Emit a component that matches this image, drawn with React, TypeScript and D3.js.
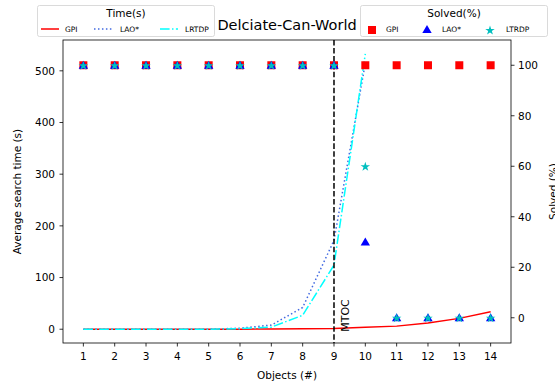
import React from "react";
import * as d3 from "d3";

const objects = [1, 2, 3, 4, 5, 6, 7, 8, 9, 10, 11, 12, 13, 14];
const gpiTime = [0, 0, 0, 0, 0, 0, 0.5, 1, 1.5, 4, 6, 12, 21, 34];
const laoObjects = [1, 2, 3, 4, 5, 6, 7, 8, 9, 10];
const laoTime = [0, 0, 0, 0, 0, 2, 8, 42, 172, 515];
const lrtdpTime = [0, 0, 0, 0, 0, 1, 4, 27, 124, 533];
const gpiSolved = [100, 100, 100, 100, 100, 100, 100, 100, 100, 100, 100, 100, 100, 100];
const laoSolved = [100, 100, 100, 100, 100, 100, 100, 100, 100, 30, 0, 0, 0, 0];
const lrtdpSolved = [100, 100, 100, 100, 100, 100, 100, 100, 100, 60, 0, 0, 0, 0];
const leftTicks = [0, 100, 200, 300, 400, 500];
const rightTicks = [0, 20, 40, 60, 80, 100];
const mtocAt = 9;

const W = 555, H = 385;
const L = 63, R = 511, T = 40, B = 343;
const FONT = "DejaVu Sans, sans-serif";

const x = d3.scaleLinear().domain([0.35, 14.65]).range([L, R]);
const yL = d3.scaleLinear().domain([-26.65, 559.65]).range([B, T]);
const yR = d3.scaleLinear().domain([-10, 110]).range([B, T]);

const lineGen = (xs: number[], ys: number[]) =>
  d3.line<number>().x((_, i) => x(xs[i])).y((d) => yL(d))(ys) || "";

const starPath = d3.symbol().type(d3.symbolStar).size(28)() || "";
const triPath = d3.symbol().type(d3.symbolTriangle).size(38)() || "";

const RED = "#ff0000";
const LAOC = "#4169e1";
const CYAN = "#00ffff";
const STARC = "#00bfbf";
const BLUE = "#0000ff";

function Square({ cx, cy }: { cx: number; cy: number }) {
  return <rect x={cx - 4} y={cy - 4} width={8} height={8} fill={RED} />;
}
function Tri({ cx, cy }: { cx: number; cy: number }) {
  return <path d={triPath} transform={`translate(${cx},${cy + 0.8})`} fill={BLUE} />;
}
function Star({ cx, cy }: { cx: number; cy: number }) {
  return <path d={starPath} transform={`translate(${cx},${cy + 0.5})`} fill={STARC} />;
}

export default function App() {
  return (
    <svg width={W} height={H} style={{ position: "absolute", left: 0, top: 0, background: "#fff" }} fontFamily={FONT}>
      <rect x={0} y={0} width={W} height={H} fill="#fff" />
      {/* lines */}
      <path d={lineGen(objects, gpiTime)} fill="none" stroke={RED} strokeWidth={1.5} />
      <path d={lineGen(laoObjects, laoTime)} fill="none" stroke={LAOC} strokeWidth={1.5} strokeDasharray="1.5,2.475" />
      <path d={lineGen(laoObjects, lrtdpTime)} fill="none" stroke={CYAN} strokeWidth={1.5} strokeDasharray="9.6,2.4,1.5,2.4" />
      {/* MTOC line */}
      <line x1={x(mtocAt)} x2={x(mtocAt)} y1={T} y2={B} stroke="#000" strokeWidth={1.5} strokeDasharray="5.55,2.4" />
      <text transform={`translate(${x(mtocAt + 0.48)},${yL(-5)}) rotate(-90)`} fontSize={11} fill="#000">MTOC</text>
      {/* markers */}
      {objects.map((o, i) => <Square key={"s" + i} cx={x(o)} cy={yR(gpiSolved[i])} />)}
      {objects.map((o, i) => <Tri key={"t" + i} cx={x(o)} cy={yR(laoSolved[i])} />)}
      {objects.map((o, i) => <Star key={"st" + i} cx={x(o)} cy={yR(lrtdpSolved[i])} />)}
      {/* frame */}
      <rect x={L} y={T} width={R - L} height={B - T} fill="none" stroke="#000" strokeWidth={0.8} />
      {/* x ticks */}
      {objects.map((o) => (
        <g key={"x" + o}>
          <line x1={x(o)} x2={x(o)} y1={B} y2={B + 3.5} stroke="#000" strokeWidth={0.8} />
          <text x={x(o)} y={B + 17} fontSize={10.5} textAnchor="middle" fill="#000">{o}</text>
        </g>
      ))}
      {leftTicks.map((t) => (
        <g key={"l" + t}>
          <line x1={L - 3.5} x2={L} y1={yL(t)} y2={yL(t)} stroke="#000" strokeWidth={0.8} />
          <text x={L - 8} y={yL(t) + 3.8} fontSize={10.5} textAnchor="end" fill="#000">{t}</text>
        </g>
      ))}
      {rightTicks.map((t) => (
        <g key={"r" + t}>
          <line x1={R} x2={R + 3.5} y1={yR(t)} y2={yR(t)} stroke="#000" strokeWidth={0.8} />
          <text x={R + 7} y={yR(t) + 3.8} fontSize={10.5} textAnchor="start" fill="#000">{t}</text>
        </g>
      ))}
      <text x={(L + R) / 2} y={379} fontSize={10.5} textAnchor="middle" fill="#000">Objects (#)</text>
      <text transform={`translate(21,${(T + B) / 2}) rotate(-90)`} fontSize={10.5} textAnchor="middle" fill="#000">Average search time (s)</text>
      <text transform={`translate(557,${(T + B) / 2}) rotate(-90)`} fontSize={10.5} textAnchor="middle" fill="#000">Solved (%)</text>
      {/* title */}
      <text x={(L + R) / 2} y={30} fontSize={14.5} textAnchor="middle" fill="#000">Delciate-Can-World</text>
      {/* legend Time */}
      <g>
        <rect x={37.5} y={5.5} width={177} height={31} rx={2} fill="#fff" fillOpacity={0.8} stroke="#d0d0d0" strokeWidth={0.8} />
        <text x={126} y={17} fontSize={10.5} textAnchor="middle" fill="#000">Time(s)</text>
        <line x1={41} x2={59} y1={29} y2={29} stroke={RED} strokeWidth={1.5} />
        <text x={65} y={32} fontSize={7.5} fill="#000">GPI</text>
        <line x1={94} x2={112} y1={29} y2={29} stroke={LAOC} strokeWidth={1.5} strokeDasharray="1.5,2.475" />
        <text x={120} y={32} fontSize={7.5} fill="#000">LAO*</text>
        <line x1={160} x2={178} y1={29} y2={29} stroke={CYAN} strokeWidth={1.5} strokeDasharray="9.6,2.4,1.5,2.4" />
        <text x={185} y={32} fontSize={7.5} fill="#000">LRTDP</text>
      </g>
      {/* legend Solved */}
      <g>
        <rect x={360.5} y={5.5} width={187} height={31} rx={2} fill="#fff" fillOpacity={0.8} stroke="#d0d0d0" strokeWidth={0.8} />
        <text x={454} y={17} fontSize={10.5} textAnchor="middle" fill="#000">Solved(%)</text>
        <Square cx={372} cy={30} />
        <text x={386} y={32} fontSize={7.5} fill="#000">GPI</text>
        <Tri cx={427} cy={29.5} />
        <text x={442} y={32} fontSize={7.5} fill="#000">LAO*</text>
        <Star cx={490} cy={30} />
        <text x={506} y={32} fontSize={7.5} fill="#000">LTRDP</text>
      </g>
    </svg>
  );
}
